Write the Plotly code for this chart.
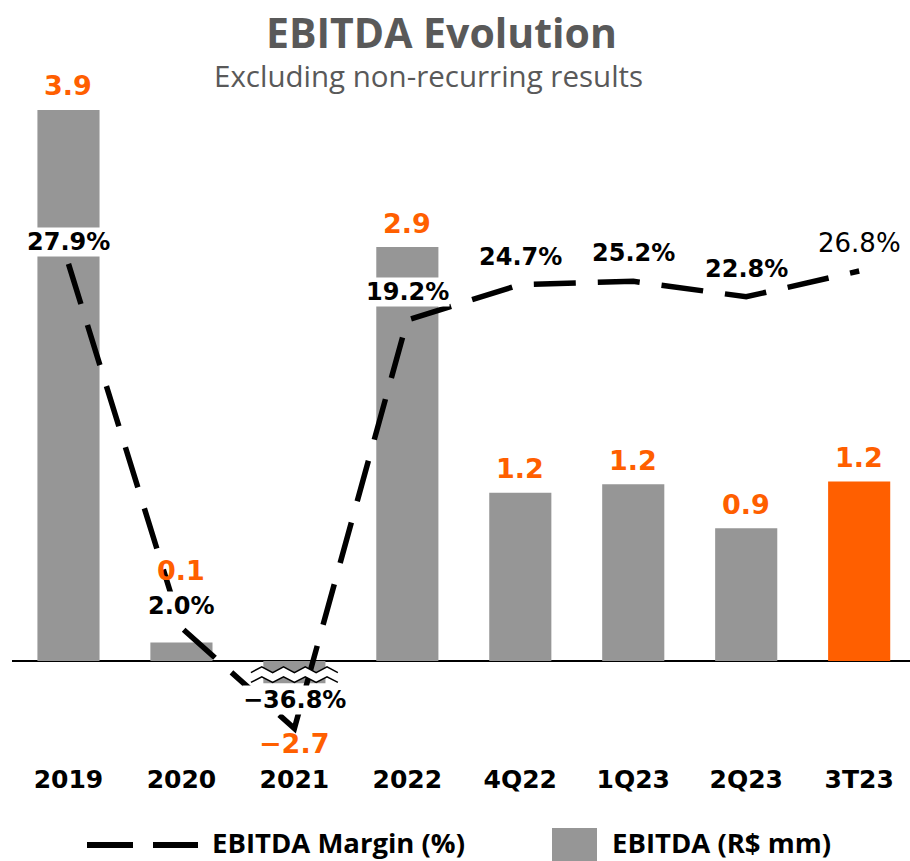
import plotly.graph_objects as go

# ---------------- data ----------------
categories = ["2019", "2020", "2021", "2022", "4Q22", "1Q23", "2Q23", "3T23"]
ebitda = [3.90, 0.13, -2.70, 2.93, 1.19, 1.25, 0.94, 1.27]          # R$ mm (bar heights)
ebitda_labels = ["3.9", "0.1", "\u22122.7", "2.9", "1.2", "1.2", "0.9", "1.2"]
margin_labels = ["27.9%", "2.0%", "\u221236.8%", "19.2%", "24.7%", "25.2%", "22.8%", "26.8%"]
# margin line as drawn on the chart's (hidden) margin axis; 2020/2021 are drawn off-scale in the original
margin_plotted = [27.9, -28.5, -44.1, 19.2, 24.7, 25.2, 22.8, 26.8]

# ---------------- layout constants ----------------
W, H = 910, 861
ML, MR, MT, MB = 12, 0, 80, 99
PW, PH = W - ML - MR, H - MT - MB
GRAY = "#969696"
ORANGE = "#FF5F00"
TITLE_GRAY = "#595959"
BREAK_FLOOR = -0.157        # broken-axis floor for the 2021 bar

def px_x(px):
    return (px - ML) / PW

def px_y(py):
    return (H - MB - py) / PH

x_idx = list(range(len(categories)))
bar_heights = [max(v, BREAK_FLOOR) for v in ebitda]
bar_colors = [GRAY] * (len(categories) - 1) + [ORANGE]

fig = go.Figure()
fig.add_trace(go.Bar(
    x=x_idx, y=bar_heights, marker=dict(color=bar_colors, line=dict(width=0)),
    hoverinfo="skip", showlegend=False,
))
fig.add_trace(go.Scatter(
    x=x_idx, y=margin_plotted, yaxis="y2", mode="lines",
    line=dict(color="black", width=5.5, dash="42px,22px"),
    hoverinfo="skip", showlegend=False,
))

annotations = []
# bar value labels
for i, (v, h, t) in enumerate(zip(ebitda, bar_heights, ebitda_labels)):
    if v >= 0:
        ys = 72 if i == 1 else 24
    else:
        ys = -60
    annotations.append(dict(
        x=i, y=h, xref="x", yref="y", text=t, showarrow=False,
        yanchor="middle", yshift=ys,
        font=dict(family="DejaVu Sans", size=27, color=ORANGE, weight="bold"),
    ))
# margin labels
for i, (v, t) in enumerate(zip(margin_plotted, margin_labels)):
    ys = 22 if i in (0, 1) else 28
    last = i == len(margin_labels) - 1
    annotations.append(dict(
        x=i, y=v, xref="x", yref="y2", text=t, showarrow=False,
        yanchor="middle", yshift=ys, bgcolor="white", borderpad=0,
        font=dict(family="DejaVu Sans", size=26 if last else 24, color="black",
                  weight="normal" if last else "bold"),
    ))
# title / subtitle
annotations.append(dict(
    x=px_x(441), y=px_y(32), xref="paper", yref="paper", text="<b>EBITDA Evolution</b>",
    showarrow=False, xanchor="center", yanchor="middle",
    font=dict(family="Open Sans", size=41, color=TITLE_GRAY),
))
annotations.append(dict(
    x=px_x(428), y=px_y(75), xref="paper", yref="paper", text="Excluding non-recurring results",
    showarrow=False, xanchor="center", yanchor="middle",
    font=dict(family="Open Sans", size=29.5, color=TITLE_GRAY),
))
# custom legend texts
annotations.append(dict(
    x=px_x(211), y=px_y(843), xref="paper", yref="paper", text="<b>EBITDA Margin (%)</b>",
    showarrow=False, xanchor="left", yanchor="middle", borderpad=0,
    font=dict(family="Open Sans", size=27.5, color="black"),
))
annotations.append(dict(
    x=px_x(611), y=px_y(843), xref="paper", yref="paper", text="<b>EBITDA (R$ mm)</b>",
    showarrow=False, xanchor="left", yanchor="middle", borderpad=0,
    font=dict(family="Open Sans", size=27.5, color="black"),
))

shapes = []
# legend symbols
shapes.append(dict(type="line", xref="paper", yref="paper",
                   x0=px_x(87), x1=px_x(198), y0=px_y(845), y1=px_y(845),
                   line=dict(color="black", width=6, dash="46px,20px")))
shapes.append(dict(type="rect", xref="paper", yref="paper",
                   x0=px_x(552), x1=px_x(597), y0=px_y(828), y1=px_y(875),
                   fillcolor=GRAY, line=dict(width=0)))

# broken-axis zigzag on the 2021 bar
bi = 2
half = 0.385
n_seg = 8
amp = 0.02
upper, lower = -0.062, -0.132

def zig(y0):
    pts = []
    for k in range(n_seg + 1):
        x = bi - half + 2 * half * k / n_seg
        y = y0 + (amp if k % 2 else -amp)
        pts.append((x, y))
    return pts

up_pts = zig(upper)
lo_pts = zig(lower)
band = "M " + " L ".join(f"{x:.4f},{y:.4f}" for x, y in up_pts)
band += " L " + " L ".join(f"{x:.4f},{y:.4f}" for x, y in reversed(lo_pts)) + " Z"
shapes.append(dict(type="path", xref="x", yref="y", path=band,
                   fillcolor="white", line=dict(width=0), layer="above"))
for pts in (up_pts, lo_pts):
    p = "M " + " L ".join(f"{x:.4f},{y:.4f}" for x, y in pts)
    shapes.append(dict(type="path", xref="x", yref="y", path=p,
                       line=dict(color="black", width=1.5), layer="above"))

fig.update_layout(
    width=W, height=H,
    margin=dict(l=ML, r=MR, t=MT, b=MB),
    paper_bgcolor="white", plot_bgcolor="white",
    bargap=0.45,
    showlegend=False,
    annotations=annotations,
    shapes=shapes,
    xaxis=dict(
        range=[-0.5, 7.45], tickmode="array", tickvals=x_idx, ticktext=categories,
        showgrid=False, zeroline=False, showline=False, ticks="",
        tickfont=dict(family="DejaVu Sans", size=25, color="black", weight="bold"),
        fixedrange=True,
    ),
    yaxis=dict(
        range=[-0.715, 4.112], showgrid=False, showticklabels=False, ticks="",
        zeroline=True, zerolinecolor="black", zerolinewidth=2, showline=False,
        fixedrange=True,
    ),
    yaxis2=dict(
        range=[-49.3, 56.4], overlaying="y", visible=False, fixedrange=True,
    ),
)

fig.write_html(
    "out.html",
    config={"displayModeBar": False},
    post_script="document.body.style.margin='0';document.body.style.overflow='hidden';",
)
